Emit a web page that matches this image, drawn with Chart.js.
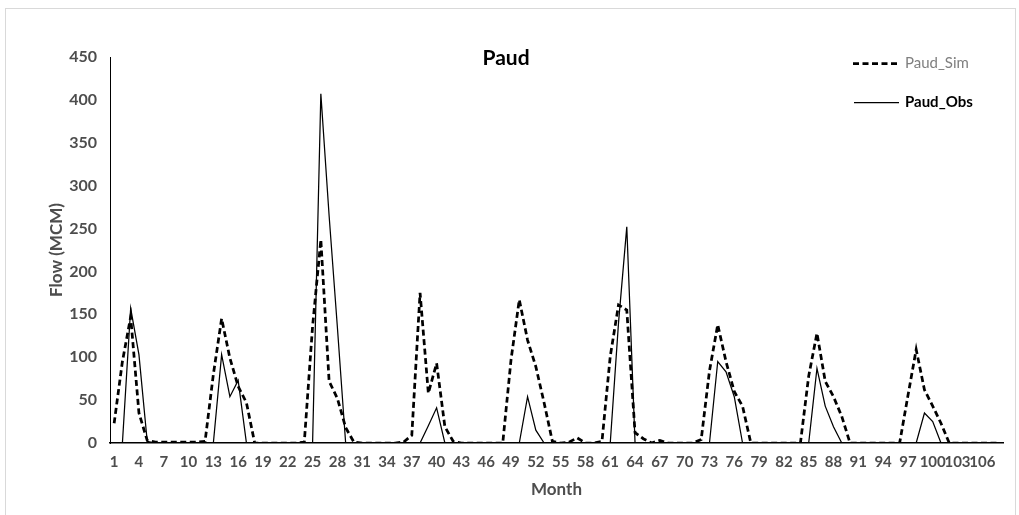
<!DOCTYPE html>
<html>
<head>
<meta charset="utf-8">
<script src="https://cdn.jsdelivr.net/npm/chart.js@4.4.0/dist/chart.umd.min.js"></script>
<style>
  html, body { margin: 0; padding: 0; background: #fff; }
  #wrap { width: 1019px; height: 515px; position: relative; }
</style>
</head>
<body>
<div id="wrap"><canvas id="flow"></canvas></div>
<script>
// months 1..108 on the category axis
const months = Array.from({ length: 108 }, (_, i) => String(i + 1));

// Paud_Sim (dashed)
const paudSim = [
  23, 95, 147, 35, 3, 1, 1, 1, 1, 1, 1, 2,
  80, 145, 99, 66, 47, 0, 0, 0, 0, 0, 0, 1,
  136, 237, 72, 52, 18, 1, 0, 0, 0, 0, 0, 1,
  9, 175, 58, 93, 19, 2, 0, 0, 0, 0, 0, 0,
  97, 167, 120, 89, 47, 2, 0, 1, 6, 0, 0, 2,
  101, 161, 155, 12, 5, 0, 3, 0, 0, 0, 0, 4,
  84, 138, 95, 60, 43, 0, 0, 0, 0, 0, 0, 0,
  78, 128, 72, 54, 31, 0, 0, 0, 0, 0, 0, 0,
  55, 109, 62, 43, 23, 0, 0, 0, 0, 0, 0, 0
];

// Paud_Obs (solid)
const paudObs = [
  0, 0, 157, 103, 2, 0, 0, 0, 0, 0, 0, 0,
  0, 103, 54, 73, 0, 0, 0, 0, 0, 0, 0, 0,
  0, 407, 265, 135, 0, 0, 0, 0, 0, 0, 0, 0,
  0, 0, 20, 41, 0, 0, 0, 0, 0, 0, 0, 0,
  0, 0, 54, 15, 0, 0, 0, 0, 0, 0, 0, 0,
  0, 140, 252, 0, 0, 0, 0, 0, 0, 0, 0, 0,
  0, 95, 83, 54, 0, 0, 0, 0, 0, 0, 0, 0,
  0, 87, 43, 19, 0, 0, 0, 0, 0, 0, 0, 0,
  0, 0, 35, 25, 0, 0, 0, 0, 0, 0, 0, 0
];

const axisGray = "#4d4d4d";
const fontName = "Lato";

// frame, title and legend sit on top of the plot like in the excel original
const overlay = {
  id: "overlay",
  beforeDraw(chart) {
    const ctx = chart.ctx;
    ctx.save();
    ctx.strokeStyle = "#d9d9d9";
    ctx.lineWidth = 1;
    ctx.strokeRect(5.5, 8.5, 1010, 520);
    ctx.restore();
  },
  afterDraw(chart) {
    const ctx = chart.ctx;
    ctx.save();
    ctx.fillStyle = "#000";
    ctx.font = "bold 21px " + fontName;
    ctx.textAlign = "center";
    ctx.textBaseline = "middle";
    ctx.fillText("Paud", 506, 58);

    // legend
    ctx.strokeStyle = "#000";
    ctx.lineWidth = 2.75;
    ctx.setLineDash([6, 3.5]);
    ctx.beginPath();
    ctx.moveTo(853, 63.5);
    ctx.lineTo(900, 63.5);
    ctx.stroke();
    ctx.setLineDash([]);
    ctx.lineWidth = 1.25;
    ctx.beginPath();
    ctx.moveTo(854, 102.5);
    ctx.lineTo(899, 102.5);
    ctx.stroke();

    ctx.textAlign = "left";
    ctx.fillStyle = "#7f7f7f";
    ctx.font = "15px " + fontName;
    ctx.fillText("Paud_Sim", 905, 63);
    ctx.fillStyle = "#000";
    ctx.font = "bold 15px " + fontName;
    ctx.fillText("Paud_Obs", 905, 102);
    ctx.restore();
  }
};

new Chart(document.getElementById("flow"), {
  type: "line",
  plugins: [overlay],
  data: {
    labels: months,
    datasets: [
      {
        label: "Paud_Sim",
        data: paudSim,
        borderColor: "#000",
        borderWidth: 2.75,
        borderDash: [6, 3.5],
        pointRadius: 0,
        tension: 0,
        fill: false
      },
      {
        label: "Paud_Obs",
        data: paudObs,
        borderColor: "#000",
        borderWidth: 1.25,
        pointRadius: 0,
        tension: 0,
        fill: false
      }
    ]
  },
  options: {
    responsive: true,
    maintainAspectRatio: false,
    animation: false,
    layout: { padding: { left: 0, right: 16, top: 57, bottom: 0 } },
    plugins: {
      legend: { display: false },
      title: { display: false },
      tooltip: { enabled: false }
    },
    scales: {
      x: {
        offset: true,
        grid: { display: false, drawTicks: false },
        border: { display: true, color: "#000", width: 1.5 },
        ticks: {
          autoSkip: false,
          maxRotation: 0,
          minRotation: 0,
          padding: 10,
          color: axisGray,
          font: { family: fontName, size: 15, weight: "bold" },
          callback: (v, i) => (i % 3 === 0 ? months[i] : "")
        },
        title: {
          display: true,
          text: "Month",
          color: axisGray,
          font: { family: fontName, size: 17, weight: "bold" },
          padding: { top: 0, bottom: 15 }
        },
        afterFit: (s) => { s.height = 72; }
      },
      y: {
        min: 0,
        max: 450,
        grid: { display: false, drawTicks: false },
        border: { display: true, color: "#000", width: 1 },
        ticks: {
          stepSize: 50,
          padding: 13,
          color: axisGray,
          font: { family: fontName, size: 16, weight: "bold" }
        },
        title: {
          display: true,
          text: "Flow (MCM)",
          color: axisGray,
          font: { family: fontName, size: 17, weight: "bold" },
          padding: { top: 46, bottom: 0 }
        },
        afterFit: (s) => { s.width = 110; }
      }
    }
  }
});
</script>
</body>
</html>
